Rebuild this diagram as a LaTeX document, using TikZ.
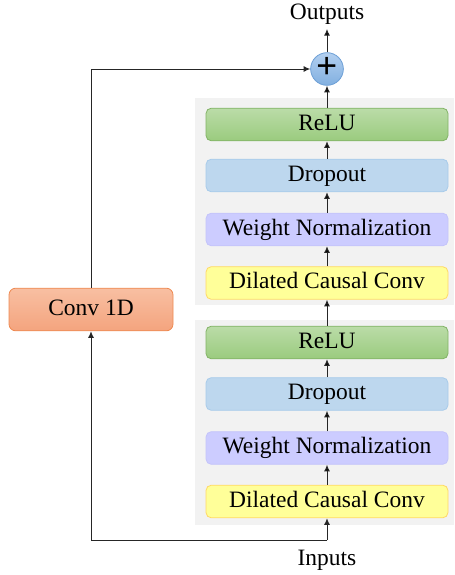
\documentclass[tikz,border=0pt]{standalone}
\usepackage{fontspec}
\setmainfont{Liberation Serif}
\usepackage{tikz}
\usetikzlibrary{
    arrows.meta,
    calc,
    positioning
}
\definecolor{panelgray}{HTML}{F2F2F2}
\definecolor{linegray}{HTML}{262626}
\definecolor{reluhi}{HTML}{BBDCA8}
\definecolor{relulo}{HTML}{9ACB7E}
\definecolor{reluline}{HTML}{82B366}
\definecolor{dropfill}{HTML}{BDD7EE}
\definecolor{dropline}{HTML}{A8CBEA}
\definecolor{wnfill}{HTML}{CCCCFF}
\definecolor{wnline}{HTML}{C4C4FA}
\definecolor{dccfill}{HTML}{FFFF99}
\definecolor{dccline}{HTML}{FFD966}
\definecolor{convhi}{HTML}{F8BFA2}
\definecolor{convlo}{HTML}{F4A47E}
\definecolor{convline}{HTML}{EE8A52}
\definecolor{plushi}{HTML}{B2CFF0}
\definecolor{pluslo}{HTML}{82B0E0}
\definecolor{plusline}{HTML}{6C9FD6}

\begin{document}
\begin{tikzpicture}[x=0.75pt, y=-0.75pt,
        font=\fontsize{17.6}{20}\selectfont,
        layer/.style={rounded corners=4pt, minimum width=181.5pt, minimum height=24.5pt,
            inner sep=0pt, text height=12pt, text depth=3.5pt, line width=0.6pt},
        relubox/.style={layer, draw=reluline, top color=reluhi, bottom color=relulo},
        dropbox/.style={layer, draw=dropline, fill=dropfill},
        wnbox/.style={layer, draw=wnline, fill=wnfill},
        dccbox/.style={layer, draw=dccline, fill=dccfill},
        convbox/.style={rounded corners=5pt, minimum width=123pt, minimum height=32pt,
            inner sep=0pt, text height=12pt, text depth=3.5pt, line width=0.6pt,
            draw=convline, top color=convhi, bottom color=convlo},
        sumnode/.style={circle, minimum size=24.5pt, inner sep=0pt, line width=0.6pt,
            draw=plusline, top color=plushi, bottom color=pluslo},
        arr/.style={-{Latex[length=5pt, width=4.5pt]}, draw=linegray, line width=0.75pt}
    ]
    \useasboundingbox (0, 0) rectangle (454, 575);

    % grey panels behind the two blocks
    \fill[panelgray] (195, 98) rectangle (454, 305);
    \fill[panelgray] (195, 320) rectangle (454, 525);

    % upper block
    \node[relubox] (relu1) at (327, 124.5) {ReLU};
    \node[dropbox] (drop1) at (327, 175.5) {Dropout};
    \node[wnbox] (wn1) at (327, 229.5) {Weight Normalization};
    \node[dccbox] (dcc1) at (327, 283) {Dilated Causal Conv};

    % lower block
    \node[relubox] (relu2) at (327, 342.5) {ReLU};
    \node[dropbox] (drop2) at (327, 394) {Dropout};
    \node[wnbox] (wn2) at (327, 448) {Weight Normalization};
    \node[dccbox] (dcc2) at (327, 501.5) {Dilated Causal Conv};

    \node[convbox] (conv) at (91, 309.5) {Conv 1D};
    \node[sumnode] (plus) at (327, 69) {\fontsize{28}{28}\selectfont\bfseries\raisebox{1pt}{+}};

    \node (outputs) at (327, 14) {Outputs};
    \node (inputs) at (327, 560) {Inputs};
    \coordinate (tap) at (327, 540);

    \draw[arr]
    (dcc2) edge (wn2)
    (wn2) edge (drop2)
    (drop2) edge (relu2)
    (relu2) edge (dcc1)
    (dcc1) edge (wn1)
    (wn1) edge (drop1)
    (drop1) edge (relu1)
    (relu1) edge (plus)
    (plus) edge (outputs);
    \draw[arr] (tap) -- (dcc2);
    \draw[arr] (tap) -| (conv.south);
    \draw[arr] (conv.north) |- (plus.west);
\end{tikzpicture}
\end{document}
